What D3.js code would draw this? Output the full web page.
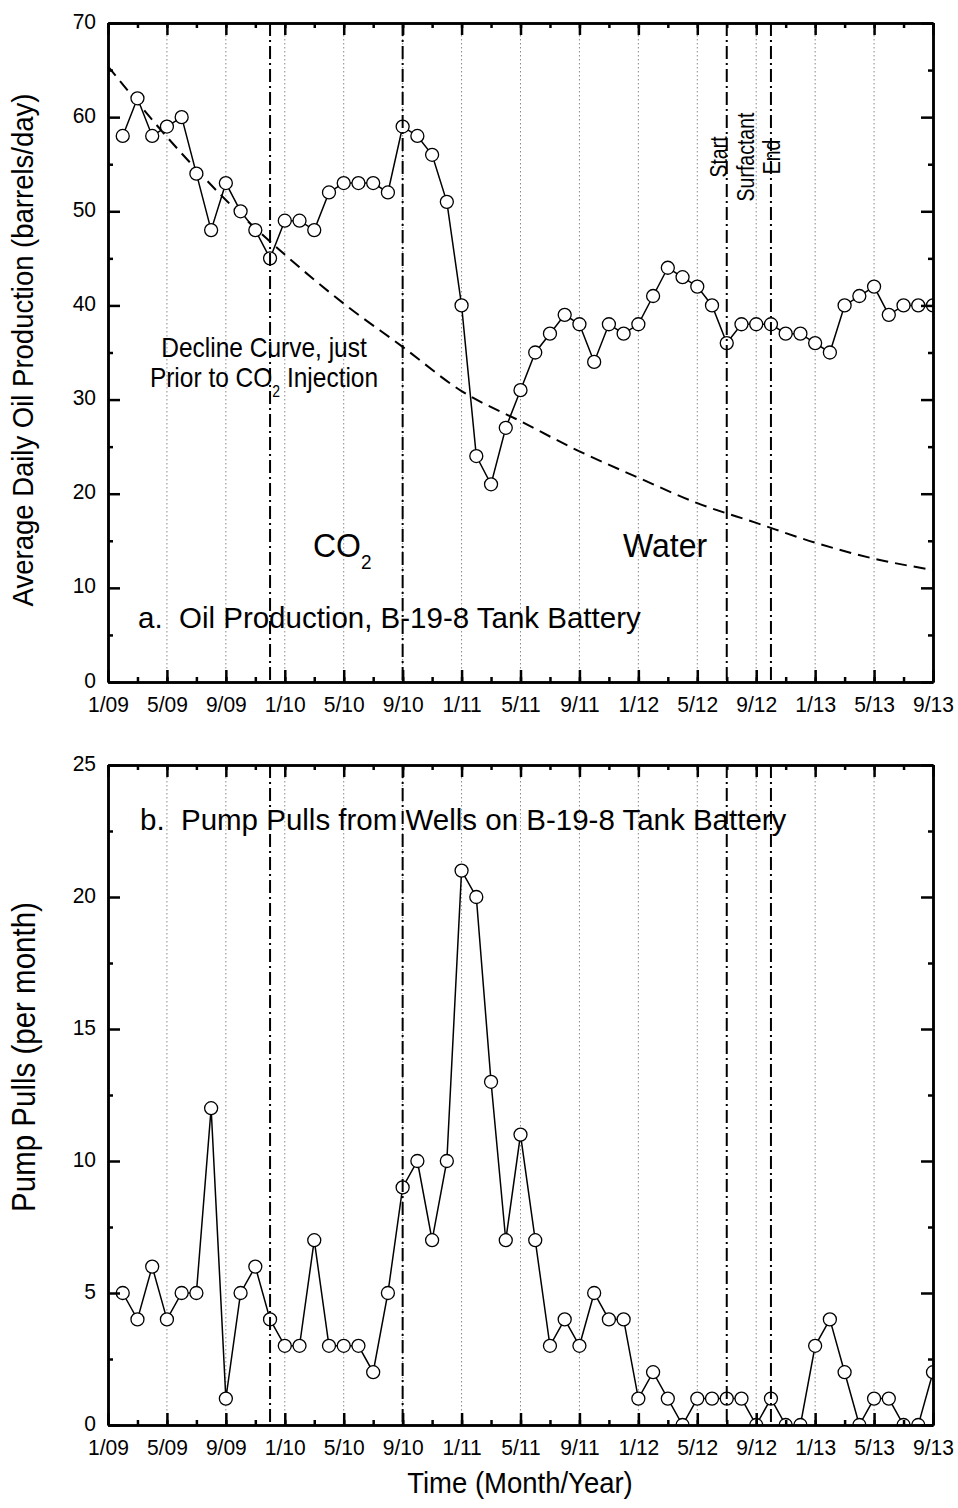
<!DOCTYPE html>
<html>
<head>
<meta charset="utf-8">
<script src="https://cdn.jsdelivr.net/npm/d3@7"></script>
<style>
body{margin:0;background:#fff;}
svg text{font-family:Arial,'Liberation Sans',Helvetica,sans-serif;fill:#000;}
</style>
</head>
<body>
<div id="chart"></div>
<script>
// months counted from 1/09 (0) to 9/13 (56)
const oilProduction = [58,62,58,59,60,54,48,53,50,48,45,49,49,48,52,53,53,53,52,59,
	58,56,51,40,24,21,27,31,35,37,39,38,34,38,37,38,41,44,43,42,
	40,36,38,38,38,37,37,36,35,40,41,42,39,40,40,40];
const pumpPulls = [5,4,6,4,5,5,12,1,5,6,4,3,3,7,3,3,3,2,5,9,
	10,7,10,21,20,13,7,11,7,3,4,3,5,4,4,1,2,1,0,1,
	1,1,1,0,1,0,0,3,4,2,0,1,1,0,0,2];
const declineMonths = [0,4,8,12,16,20,24,28,32,36,40,44,48,52,56];
const declineCurve = [65.4,57.9,51.2,45.4,40.2,35.6,30.9,27.7,24.5,21.7,19.0,16.9,14.8,13.1,11.9];
const tickMonths = [0,4,8,12,16,20,24,28,32,36,40,44,48,52,56];
const tickLabels = ['1/09','5/09','9/09','1/10','5/10','9/10','1/11','5/11','9/11','1/12','5/12','9/12','1/13','5/13','9/13'];
const eventMonths = [11,20,42,45]; // CO2 start, water start, surfactant start / end

const W = 958, H = 1508;
const margin = {l:108, r:25};

const svg = d3.select('#chart').append('svg')
	.attr('width', W)
	.attr('height', H);

const x = d3.scaleLinear().domain([0,56]).range([margin.l, W - margin.r]);

function styleAxis(sel){
	sel.select('.domain').attr('stroke','#000').attr('stroke-width',2.5);
	sel.selectAll('.tick line').attr('stroke','#000').attr('stroke-width',2.5);
	sel.selectAll('.tick text').style('font-size','21px').attr('fill','#000');
}

// text that is a bit taller than the font, like the source figure
function tallText(px, py, size, sy, anchor){
	return svg.append('text')
		.attr('transform',`translate(${px},${py}) scale(1,${sy})`)
		.attr('text-anchor',anchor||'start')
		.style('font-size',size+'px')
		.style('white-space','pre');
}

function drawPanel(p){
	const y = d3.scaleLinear().domain([0,p.yMax]).range([p.bottom,p.top]);
	const g = svg.append('g').attr('class','panel');

	g.append('clipPath').attr('id','clip'+p.id)
		.append('rect')
		.attr('x',x(0)).attr('y',p.top)
		.attr('width',x(56)-x(0)).attr('height',p.bottom-p.top);

	// dotted grid
	g.selectAll('.grid')
		.data(tickMonths.slice(1,-1))
		.join('line')
		.attr('class','grid')
		.attr('x1',d=>x(d)).attr('x2',d=>x(d))
		.attr('y1',p.top).attr('y2',p.bottom)
		.attr('stroke','#8a8a8a')
		.attr('stroke-width',1)
		.attr('stroke-dasharray','1.5,2.5');

	const plot = g.append('g').attr('clip-path','url(#clip'+p.id+')');

	if(p.decline){
		const dl = d3.line()
			.x((d,i)=>x(declineMonths[i]))
			.y(d=>y(d))
			.curve(d3.curveMonotoneX);
		plot.append('path')
			.datum(declineCurve)
			.attr('d',dl)
			.attr('fill','none')
			.attr('stroke','#000')
			.attr('stroke-width',2)
			.attr('stroke-dasharray','12,7');
	}

	const line = d3.line()
		.x((d,i)=>x(i+1))
		.y(d=>y(d));
	plot.append('path')
		.datum(p.values)
		.attr('d',line)
		.attr('fill','none')
		.attr('stroke','#000')
		.attr('stroke-width',1.5);

	plot.selectAll('circle')
		.data(p.values)
		.join('circle')
		.attr('cx',(d,i)=>x(i+1))
		.attr('cy',d=>y(d))
		.attr('r',6.5)
		.attr('fill','#fff')
		.attr('stroke','#000')
		.attr('stroke-width',1.3);

	// event lines (dash-dot)
	g.selectAll('.event')
		.data(eventMonths)
		.join('line')
		.attr('class','event')
		.attr('x1',d=>x(d)).attr('x2',d=>x(d))
		.attr('y1',p.top).attr('y2',p.bottom)
		.attr('stroke','#000')
		.attr('stroke-width',2)
		.attr('stroke-dasharray','13,4,2,4');

	// axes: minor ticks first, then major with labels
	const minorX = d3.range(0,57,2);
	g.append('g').attr('transform',`translate(0,${p.bottom})`)
		.call(d3.axisBottom(x).tickValues(minorX).tickFormat('').tickSizeInner(-5).tickSizeOuter(0))
		.call(styleAxis);
	g.append('g').attr('transform',`translate(0,${p.top})`)
		.call(d3.axisTop(x).tickValues(minorX).tickFormat('').tickSizeInner(-5).tickSizeOuter(0))
		.call(styleAxis);
	g.append('g').attr('transform',`translate(0,${p.bottom})`)
		.call(d3.axisBottom(x).tickValues(tickMonths).tickFormat((d,i)=>tickLabels[i])
			.tickSizeInner(-12).tickSizeOuter(0))
		.call(styleAxis)
		.call(s=>s.selectAll('.tick text').attr('y',0).attr('dy',0)
			.attr('transform','translate(0,30) scale(1,1.05)'));
	g.append('g').attr('transform',`translate(0,${p.top})`)
		.call(d3.axisTop(x).tickValues(tickMonths).tickFormat('').tickSizeInner(-12).tickSizeOuter(0))
		.call(styleAxis);

	g.append('g').attr('transform',`translate(${x(0)},0)`)
		.call(d3.axisLeft(y).tickValues(p.yMinor).tickFormat('').tickSizeInner(-5).tickSizeOuter(0))
		.call(styleAxis);
	g.append('g').attr('transform',`translate(${x(56)},0)`)
		.call(d3.axisRight(y).tickValues(p.yMinor).tickFormat('').tickSizeInner(-5).tickSizeOuter(0))
		.call(styleAxis);
	g.append('g').attr('transform',`translate(${x(0)},0)`)
		.call(d3.axisLeft(y).tickValues(p.yMajor).tickFormat(d3.format('d'))
			.tickSizeInner(-12).tickSizeOuter(0).tickPadding(12))
		.call(styleAxis)
		.call(s=>s.selectAll('.tick text').attr('dy',0)
			.attr('transform','translate(0,5) scale(1,1.05)'));
	g.append('g').attr('transform',`translate(${x(56)},0)`)
		.call(d3.axisRight(y).tickValues(p.yMajor).tickFormat('').tickSizeInner(-12).tickSizeOuter(0))
		.call(styleAxis);

	// y title
	svg.append('text')
		.attr('transform',`translate(${p.titleX},${p.titleY}) rotate(-90) scale(1,1.1)`)
		.attr('text-anchor','middle')
		.style('font-size',p.titleSize+'px')
		.text(p.title);

	// panel caption
	tallText(p.capX, p.capY, 29.5, 1.03).text(p.caption);

	return y;
}

drawPanel({
	id:'a', top:23, bottom:682, yMax:70,
	yMajor:d3.range(0,71,10), yMinor:d3.range(5,70,10),
	values:oilProduction, decline:true,
	title:'Average Daily Oil Production (barrels/day)', titleX:33, titleY:350, titleSize:27.5,
	caption:'a.  Oil Production, B-19-8 Tank Battery', capX:138, capY:628
});

drawPanel({
	id:'b', top:765, bottom:1425, yMax:25,
	yMajor:d3.range(0,26,5), yMinor:d3.range(2.5,25,5),
	values:pumpPulls, decline:false,
	title:'Pump Pulls (per month)', titleX:35, titleY:1057, titleSize:29.5,
	caption:'b.  Pump Pulls from Wells on B-19-8 Tank Battery', capX:140, capY:830
});

// annotations on panel a
tallText(264, 357, 24.5, 1.13, 'middle').text('Decline Curve, just');
const t2 = tallText(264, 387, 24.5, 1.13, 'middle');
t2.append('tspan').text('Prior to CO');
t2.append('tspan').attr('dy',9).style('font-size','14px').text('2');
t2.append('tspan').attr('dy',-9).text(' Injection');

const co2 = tallText(313, 557, 32, 1.05);
co2.append('tspan').text('CO');
co2.append('tspan').attr('dy',11).style('font-size','19px').text('2');

tallText(623, 557, 32, 1.05).text('Water');

[['Start',727],['Surfactant',754],['End',780]].forEach(([s,px])=>{
	svg.append('text')
		.attr('transform',`translate(${px},157) rotate(-90) scale(1,1.18)`)
		.attr('text-anchor','middle')
		.style('font-size','19.5px')
		.text(s);
});

tallText(520, 1493, 27.5, 1.1, 'middle').text('Time (Month/Year)');
</script>
</body>
</html>
